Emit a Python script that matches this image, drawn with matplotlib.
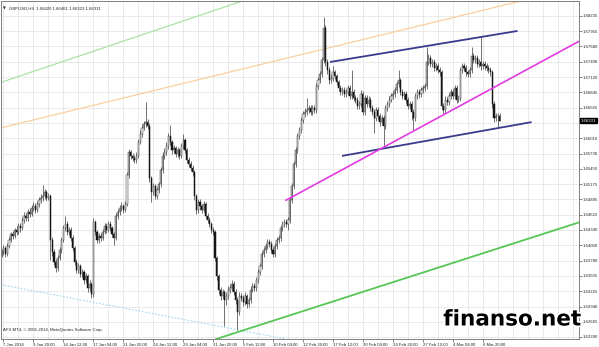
import numpy as np
import matplotlib
matplotlib.use("Agg")
import matplotlib.pyplot as plt
import matplotlib.patheffects as pe
import matplotlib.transforms as mtransforms

# GBPUSD H4, 7 Jan 2014 - 7 Mar 2014
first_open = 1.6390
closes = [
    1.6394, 1.6401, 1.6390, 1.6405, 1.6416, 1.6426, 1.6423, 1.6434, 1.6430, 1.6441,
    1.6437, 1.6452, 1.6459, 1.6456, 1.6466, 1.6463, 1.6474, 1.6477, 1.6470, 1.6481,
    1.6488, 1.6492, 1.6496, 1.6503, 1.6492, 1.6496, 1.6416, 1.6394, 1.6376, 1.6365,
    1.6383, 1.6397, 1.6416, 1.6437, 1.6445, 1.6430, 1.6434, 1.6419, 1.6401, 1.6376,
    1.6361, 1.6368, 1.6354, 1.6357, 1.6343, 1.6350, 1.6328, 1.6336, 1.6317, 1.6448,
    1.6430, 1.6416, 1.6423, 1.6419, 1.6430, 1.6441, 1.6434, 1.6445, 1.6437, 1.6426,
    1.6419, 1.6459, 1.6466, 1.6474, 1.6477, 1.6470, 1.6481, 1.6534, 1.6576, 1.6569,
    1.6565, 1.6561, 1.6569, 1.6594, 1.6609, 1.6620, 1.6627, 1.6630, 1.6623, 1.6528,
    1.6503, 1.6514, 1.6496, 1.6507, 1.6517, 1.6543, 1.6569, 1.6576, 1.6587, 1.6605,
    1.6594, 1.6579, 1.6583, 1.6572, 1.6579, 1.6569, 1.6587, 1.6598, 1.6579, 1.6561,
    1.6554, 1.6547, 1.6539, 1.6496, 1.6470, 1.6485, 1.6477, 1.6470, 1.6481, 1.6459,
    1.6452, 1.6445, 1.6434, 1.6430, 1.6383, 1.6350, 1.6325, 1.6314, 1.6321, 1.6306,
    1.6314, 1.6325, 1.6328, 1.6336, 1.6321, 1.6306, 1.6284, 1.6314, 1.6310, 1.6303,
    1.6314, 1.6299, 1.6306, 1.6325, 1.6332, 1.6328, 1.6343, 1.6357, 1.6368, 1.6390,
    1.6397, 1.6405, 1.6412, 1.6408, 1.6397, 1.6390, 1.6405, 1.6416, 1.6419, 1.6437,
    1.6445, 1.6448, 1.6445, 1.6452, 1.6488, 1.6514, 1.6554, 1.6579, 1.6605, 1.6616,
    1.6634, 1.6645, 1.6649, 1.6652, 1.6656, 1.6649, 1.6656, 1.6652, 1.6696, 1.6707,
    1.6718, 1.6743, 1.6802, 1.6740, 1.6725, 1.6707, 1.6711, 1.6721, 1.6714, 1.6703,
    1.6692, 1.6685, 1.6689, 1.6681, 1.6685, 1.6692, 1.6678, 1.6685, 1.6674, 1.6671,
    1.6660, 1.6663, 1.6681, 1.6649, 1.6674, 1.6663, 1.6671, 1.6656, 1.6649, 1.6638,
    1.6652, 1.6641, 1.6630, 1.6638, 1.6623, 1.6656, 1.6663, 1.6671, 1.6678, 1.6681,
    1.6689, 1.6700, 1.6707, 1.6685, 1.6678, 1.6681, 1.6671, 1.6660, 1.6663, 1.6649,
    1.6638, 1.6678, 1.6685, 1.6681, 1.6689, 1.6692, 1.6696, 1.6740, 1.6747, 1.6736,
    1.6740, 1.6729, 1.6732, 1.6725, 1.6721, 1.6660, 1.6652, 1.6671, 1.6667, 1.6678,
    1.6685, 1.6678, 1.6692, 1.6671, 1.6674, 1.6725, 1.6732, 1.6729, 1.6721, 1.6718,
    1.6725, 1.6751, 1.6743, 1.6747, 1.6736, 1.6740, 1.6732, 1.6736, 1.6732, 1.6729,
    1.6725, 1.6721, 1.6663, 1.6638, 1.6641, 1.6642, 1.66331,
]
highs = [
    1.6399, 1.6406, 1.6405, 1.6410, 1.6421, 1.6431, 1.6432, 1.6438, 1.6441, 1.6447,
    1.6446, 1.6458, 1.6466, 1.6465, 1.6472, 1.6473, 1.6479, 1.6484, 1.6483, 1.6487,
    1.6494, 1.6500, 1.6516, 1.6509, 1.6507, 1.6502, 1.6500, 1.6421, 1.6399, 1.6381,
    1.6388, 1.6402, 1.6421, 1.6443, 1.6459, 1.6450, 1.6440, 1.6439, 1.6424, 1.6405,
    1.6381, 1.6374, 1.6372, 1.6363, 1.6361, 1.6356, 1.6354, 1.6342, 1.6340, 1.6456,
    1.6452, 1.6434, 1.6428, 1.6429, 1.6435, 1.6446, 1.6446, 1.6451, 1.6450, 1.6441,
    1.6430, 1.6464, 1.6472, 1.6479, 1.6484, 1.6482, 1.6487, 1.6540, 1.6582, 1.6580,
    1.6574, 1.6570, 1.6575, 1.6600, 1.6615, 1.6626, 1.6633, 1.6667, 1.6636, 1.6628,
    1.6533, 1.6520, 1.6518, 1.6512, 1.6522, 1.6548, 1.6575, 1.6583, 1.6594, 1.6611,
    1.6625, 1.6598, 1.6589, 1.6587, 1.6585, 1.6583, 1.6592, 1.6609, 1.6602, 1.6583,
    1.6566, 1.6559, 1.6552, 1.6543, 1.6500, 1.6490, 1.6490, 1.6482, 1.6486, 1.6485,
    1.6464, 1.6457, 1.6449, 1.6440, 1.6434, 1.6387, 1.6354, 1.6330, 1.6327, 1.6325,
    1.6320, 1.6331, 1.6335, 1.6342, 1.6341, 1.6326, 1.6311, 1.6320, 1.6319, 1.6315,
    1.6320, 1.6318, 1.6312, 1.6331, 1.6338, 1.6337, 1.6349, 1.6363, 1.6374, 1.6396,
    1.6403, 1.6411, 1.6418, 1.6417, 1.6413, 1.6402, 1.6410, 1.6421, 1.6425, 1.6443,
    1.6451, 1.6454, 1.6453, 1.6458, 1.6494, 1.6520, 1.6560, 1.6585, 1.6611, 1.6622,
    1.6640, 1.6651, 1.6656, 1.6674, 1.6662, 1.6661, 1.6662, 1.6662, 1.6702, 1.6713,
    1.6724, 1.6749, 1.6822, 1.6808, 1.6745, 1.6730, 1.6717, 1.6732, 1.6726, 1.6718,
    1.6707, 1.6697, 1.6695, 1.6694, 1.6691, 1.6698, 1.6697, 1.6725, 1.6690, 1.6680,
    1.6676, 1.6669, 1.6689, 1.6686, 1.6680, 1.6679, 1.6677, 1.6676, 1.6661, 1.6654,
    1.6658, 1.6657, 1.6646, 1.6644, 1.6643, 1.6662, 1.6669, 1.6677, 1.6684, 1.6687,
    1.6695, 1.6706, 1.6725, 1.6711, 1.6690, 1.6687, 1.6686, 1.6676, 1.6669, 1.6668,
    1.6654, 1.6684, 1.6691, 1.6690, 1.6695, 1.6698, 1.6702, 1.6767, 1.6754, 1.6752,
    1.6746, 1.6745, 1.6738, 1.6737, 1.6730, 1.6726, 1.6665, 1.6677, 1.6676, 1.6684,
    1.6691, 1.6690, 1.6698, 1.6697, 1.6680, 1.6731, 1.6738, 1.6737, 1.6734, 1.6726,
    1.6731, 1.6767, 1.6756, 1.6753, 1.6752, 1.6746, 1.6785, 1.6742, 1.6741, 1.6737,
    1.6734, 1.6730, 1.6726, 1.6668, 1.6647, 1.6647, 1.66461,
]
lows = [
    1.6385, 1.6389, 1.6384, 1.6387, 1.6401, 1.6412, 1.6417, 1.6419, 1.6425, 1.6426,
    1.6430, 1.6433, 1.6447, 1.6450, 1.6451, 1.6458, 1.6459, 1.6469, 1.6464, 1.6466,
    1.6476, 1.6483, 1.6487, 1.6490, 1.6486, 1.6488, 1.6379, 1.6387, 1.6370, 1.6357,
    1.6360, 1.6379, 1.6392, 1.6412, 1.6432, 1.6425, 1.6424, 1.6414, 1.6395, 1.6370,
    1.6355, 1.6356, 1.6348, 1.6349, 1.6336, 1.6338, 1.6321, 1.6323, 1.6310, 1.6312,
    1.6424, 1.6410, 1.6411, 1.6414, 1.6415, 1.6426, 1.6429, 1.6430, 1.6432, 1.6421,
    1.6406, 1.6415, 1.6454, 1.6461, 1.6469, 1.6465, 1.6466, 1.6477, 1.6529, 1.6563,
    1.6559, 1.6555, 1.6556, 1.6565, 1.6590, 1.6604, 1.6615, 1.6621, 1.6617, 1.6521,
    1.6485, 1.6498, 1.6490, 1.6491, 1.6502, 1.6512, 1.6538, 1.6563, 1.6571, 1.6582,
    1.6588, 1.6573, 1.6574, 1.6566, 1.6567, 1.6563, 1.6564, 1.6582, 1.6574, 1.6555,
    1.6548, 1.6541, 1.6533, 1.6488, 1.6463, 1.6465, 1.6471, 1.6464, 1.6466, 1.6453,
    1.6446, 1.6439, 1.6428, 1.6424, 1.6377, 1.6343, 1.6317, 1.6306, 1.6308, 1.6259,
    1.6298, 1.6309, 1.6319, 1.6322, 1.6315, 1.6299, 1.6252, 1.6279, 1.6304, 1.6296,
    1.6298, 1.6292, 1.6293, 1.6301, 1.6320, 1.6322, 1.6323, 1.6338, 1.6352, 1.6363,
    1.6385, 1.6392, 1.6400, 1.6402, 1.6391, 1.6384, 1.6385, 1.6400, 1.6411, 1.6414,
    1.6432, 1.6440, 1.6439, 1.6434, 1.6447, 1.6483, 1.6509, 1.6549, 1.6574, 1.6600,
    1.6611, 1.6629, 1.6640, 1.6643, 1.6647, 1.6643, 1.6644, 1.6646, 1.6647, 1.6691,
    1.6702, 1.6713, 1.6738, 1.6733, 1.6718, 1.6700, 1.6702, 1.6706, 1.6709, 1.6697,
    1.6686, 1.6679, 1.6680, 1.6676, 1.6676, 1.6680, 1.6672, 1.6673, 1.6668, 1.6665,
    1.6654, 1.6654, 1.6658, 1.6643, 1.6644, 1.6657, 1.6658, 1.6650, 1.6643, 1.6610,
    1.6633, 1.6635, 1.6624, 1.6625, 1.6585, 1.6618, 1.6651, 1.6658, 1.6666, 1.6673,
    1.6676, 1.6684, 1.6695, 1.6679, 1.6672, 1.6673, 1.6665, 1.6654, 1.6655, 1.6634,
    1.6616, 1.6633, 1.6673, 1.6675, 1.6676, 1.6684, 1.6687, 1.6691, 1.6735, 1.6730,
    1.6731, 1.6723, 1.6724, 1.6719, 1.6715, 1.6653, 1.6645, 1.6647, 1.6661, 1.6662,
    1.6673, 1.6672, 1.6673, 1.6665, 1.6666, 1.6669, 1.6720, 1.6723, 1.6715, 1.6712,
    1.6713, 1.6720, 1.6737, 1.6738, 1.6730, 1.6731, 1.6726, 1.6727, 1.6726, 1.6723,
    1.6719, 1.6715, 1.6656, 1.6631, 1.6632, 1.6622, 1.66323,
]

price_ticks = [1.68235, 1.67955, 1.67680, 1.67400, 1.67120, 1.66845, 1.66565, 1.66290,
               1.66010, 1.65730, 1.65450, 1.65175, 1.64895, 1.64615, 1.64340, 1.64060,
               1.63780, 1.63505, 1.63225, 1.62940, 1.62665, 1.62390]
date_labels = ["7 Jan 2014", "9 Jan 20:00", "14 Jan 12:00", "17 Jan 04:00", "21 Jan 20:00",
               "24 Jan 12:00", "29 Jan 04:00", "31 Jan 20:00", "5 Feb 12:00", "10 Feb 04:00",
               "12 Feb 20:00", "17 Feb 12:00", "20 Feb 04:00", "24 Feb 20:00", "27 Feb 12:00",
               "4 Mar 04:00", "6 Mar 20:00"]

# trend lines: (bar, price) anchor pairs
channel_upper = [(175.9, 1.6740), (275.1, 1.6796)]
channel_lower = [(182.3, 1.6569), (282.6, 1.6630)]
magenta_ray = [(151.9, 1.6488), (308.7, 1.6778)]
orange_line = [(0.0, 1.6620), (280.0, 1.6853)]
green_top = [(0.0, 1.6703), (130.6, 1.6853)]
green_bottom = [(116.2, 1.6237), (308.7, 1.6448)]
blue_dotted = [(0.0, 1.6334), (149.3, 1.6237)]

closes = np.array(closes)
highs = np.array(highs)
lows = np.array(lows)
opens = np.r_[first_open, closes[:-1]]
x = np.arange(len(closes))

small = dict(family="Liberation Sans", size=3.1)

fig = plt.figure(figsize=(5.99, 3.47), dpi=100)
ax = fig.add_axes([1 / 599, 8 / 347, 578 / 599, 338 / 347])
ax.set_xlim(-0.3, 308.4)
ax.set_ylim(1.62353, 1.68508)

# grid
for p in price_ticks:
    ax.axhline(p, color="#e6e6e6", lw=0.6, zorder=0)
for b in range(1, 309, 8):
    ax.axvline(b, color="#e6e6e6", lw=0.6, zorder=0)

# background trend lines
ax.axline(*orange_line, color="#f9cf9f", lw=0.9, zorder=1)
ax.axline(*green_top, color="#a9e2a4", lw=0.9, zorder=1)
ax.axline(*blue_dotted, color="#9fd7ef", lw=0.8, ls=(0, (1.5, 1.5)), zorder=1)
ax.axline(*green_bottom, color="#56c656", lw=1.3, zorder=1)

# candles
ax.vlines(x, lows, highs, color="#3a3a3a", lw=0.5, zorder=2)
bull = closes >= opens
body_lo = np.minimum(opens, closes)
body_h = np.maximum(np.abs(closes - opens), 0.00004)
ax.bar(x[bull], body_h[bull], bottom=body_lo[bull], width=0.6,
       color="#f4f4f4", edgecolor="#3a3a3a", lw=0.35, zorder=3)
ax.bar(x[~bull], body_h[~bull], bottom=body_lo[~bull], width=0.6,
       color="#151515", edgecolor="#151515", lw=0.35, zorder=3)

# foreground trend lines
ax.plot(*zip(*channel_upper), color="#3a3a8c", lw=1.3, zorder=4)
ax.plot(*zip(*channel_lower), color="#3a3a8c", lw=1.3, zorder=4)
ax.plot(*zip(*magenta_ray), color="#e23be2", lw=1.2, zorder=4)

# axes look
for s in ax.spines.values():
    s.set_color("#808080")
    s.set_linewidth(0.7)
ax.yaxis.tick_right()
shown = [p for p in price_ticks if abs(p - closes[-1]) > 0.0008]
ax.set_yticks(shown)
ax.set_yticklabels([f"{p:.5f}" for p in shown], **small)
ax.set_xticks(range(1, 1 + 16 * len(date_labels), 16))
ax.set_xticklabels(date_labels, ha="left", **small)
ax.tick_params(axis="both", length=1.8, width=0.5, color="#555555",
               labelcolor="#222222", pad=0.8)

# current price label
trans = mtransforms.blended_transform_factory(ax.transAxes, ax.transData)
ax.text(1.003, closes[-1], f"{closes[-1]:.5f}", transform=trans,
        color="white", va="center", ha="left",
        bbox=dict(boxstyle="square,pad=0.2", fc="black", ec="black"), **small)

# header and footer text
ax.text(0.004, 0.985, "\u25bc", transform=ax.transAxes, fontsize=2.6,
        color="#222222", va="top", ha="left")
ax.text(0.013, 0.985, "GBPUSD,H4  1.66420 1.66461 1.66323 1.66331",
        transform=ax.transAxes, color="#222222", va="top", ha="left", **small)
ax.text(0.004, 0.02, "AFX MT4, \u00a9 2001-2014, MetaQuotes Software Corp.",
        transform=ax.transAxes, color="#222222", va="bottom", ha="left", **small)

fig.text(0.74, 0.062, "finanso.net", fontsize=15.5, fontweight="bold", color="black",
         ha="left", va="baseline", zorder=10,
         path_effects=[pe.withStroke(linewidth=2.5, foreground="white")])

fig.savefig("out.png", dpi=100)
